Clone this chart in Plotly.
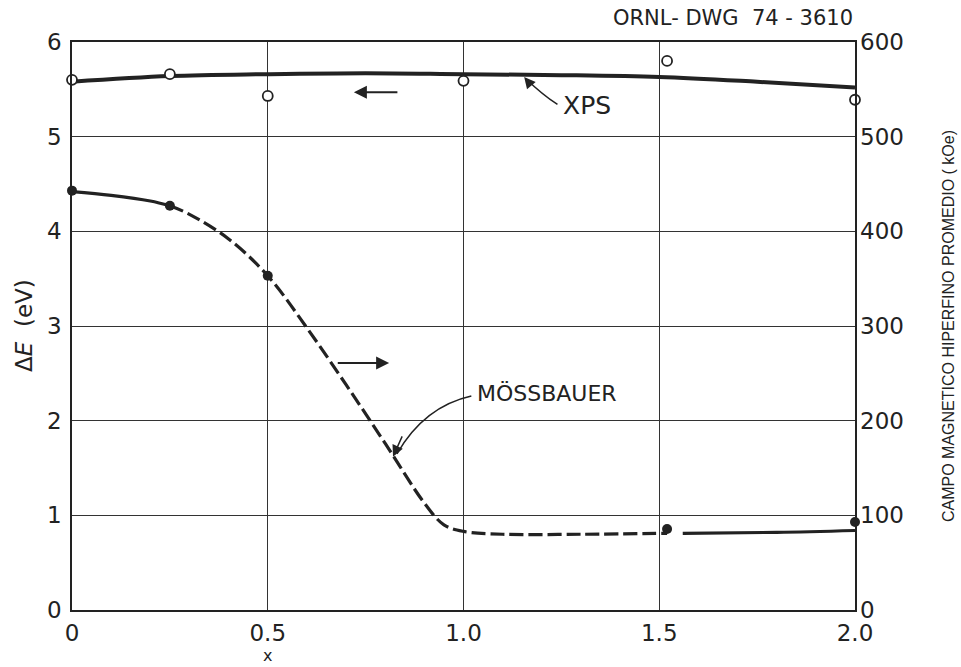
import plotly.graph_objects as go

# ---- data ----
xps_x = [0.0, 0.25, 0.5, 1.0, 1.52, 2.0]
xps_y = [5.60, 5.66, 5.43, 5.59, 5.80, 5.39]          # eV (left axis)

xps_fit_x = [0.0, 0.25, 0.5, 0.75, 1.0, 1.25, 1.5, 1.75, 2.0]
xps_fit_y = [5.58, 5.64, 5.66, 5.67, 5.66, 5.65, 5.63, 5.58, 5.52]

moss_x = [0.0, 0.25, 0.5, 1.52, 2.0]
moss_y = [443, 427, 353, 85.5, 93]                     # kOe (right axis)

moss_fit_x = [0.0, 0.1, 0.2, 0.25, 0.3, 0.4, 0.5, 0.6, 0.7, 0.8, 0.9,
              0.95, 1.0, 1.1, 1.3, 1.52, 1.56, 1.8, 2.0]
moss_fit_y = [442, 438, 432, 427, 418, 392, 353, 298, 238, 176, 113,
              90, 83, 80, 80, 81, 81, 82, 84]

x_ticks = [0, 0.5, 1.0, 1.5, 2.0]
x_tick_labels = ["0", "0.5", "1.0", "1.5", "2.0"]
y_ticks = [0, 1, 2, 3, 4, 5, 6]
y2_ticks = [0, 100, 200, 300, 400, 500, 600]

FONT = "DejaVu Sans"
INK = "#222222"

def seg(lo, hi):
    xs = [x for x in moss_fit_x if lo <= x <= hi]
    ys = [y for x, y in zip(moss_fit_x, moss_fit_y) if lo <= x <= hi]
    return xs, ys

fig = go.Figure()

fig.add_trace(go.Scatter(x=xps_fit_x, y=xps_fit_y, mode="lines",
                         line=dict(color=INK, width=4, shape="spline"),
                         showlegend=False, hoverinfo="skip"))

for lo, hi, dash in [(0.0, 0.25, "solid"), (0.25, 1.52, "14px,5px"), (1.56, 2.0, "solid")]:
    xs, ys = seg(lo, hi)
    fig.add_trace(go.Scatter(x=xs, y=ys, mode="lines", yaxis="y2",
                             line=dict(color=INK, width=3.2, shape="spline", dash=dash),
                             showlegend=False, hoverinfo="skip"))

fig.add_trace(go.Scatter(x=xps_x, y=xps_y, mode="markers",
                         marker=dict(symbol="circle", size=10, color="white",
                                     line=dict(width=1.8, color=INK)),
                         showlegend=False, cliponaxis=False))
fig.add_trace(go.Scatter(x=moss_x, y=moss_y, mode="markers", yaxis="y2",
                         marker=dict(symbol="circle", size=10, color=INK),
                         showlegend=False, cliponaxis=False))

# curved annotation pointers
fig.add_shape(type="path", xref="x", yref="y",
              path="M 1.24,5.34 Q 1.20,5.45 1.16,5.61",
              line=dict(color=INK, width=1.5))
fig.add_shape(type="path", xref="x", yref="y",
              path="M 1.02,2.26 Q 0.90,2.15 0.83,1.65",
              line=dict(color=INK, width=1.5))

ann = []
ann.append(dict(x=1.155, y=5.63, ax=1.175, ay=5.53, xref="x", yref="y",
                axref="x", ayref="y", showarrow=True, arrowhead=2,
                arrowsize=1.5, arrowwidth=1.5, arrowcolor=INK, text=""))
ann.append(dict(x=0.82, y=1.62, ax=0.845, ay=1.85, xref="x", yref="y",
                axref="x", ayref="y", showarrow=True, arrowhead=2,
                arrowsize=1.5, arrowwidth=1.5, arrowcolor=INK, text=""))
# direction arrows
ann.append(dict(x=0.72, y=5.47, ax=0.835, ay=5.47, xref="x", yref="y",
                axref="x", ayref="y", showarrow=True, arrowhead=2,
                arrowsize=1.3, arrowwidth=2, arrowcolor=INK, text=""))
ann.append(dict(x=0.81, y=2.61, ax=0.675, ay=2.61, xref="x", yref="y",
                axref="x", ayref="y", showarrow=True, arrowhead=2,
                arrowsize=1.3, arrowwidth=2, arrowcolor=INK, text=""))
ann.append(dict(x=1.25, y=5.33, xref="x", yref="y", text="XPS", showarrow=False,
                xanchor="left", yanchor="middle",
                font=dict(family=FONT, size=25, color=INK)))
ann.append(dict(x=1.03, y=2.29, xref="x", yref="y", text="MÖSSBAUER", showarrow=False,
                xanchor="left", yanchor="middle",
                font=dict(family=FONT, size=22, color=INK)))
ann.append(dict(x=1.0, y=1.0, xref="paper", yref="paper", yshift=24,
                text="ORNL- DWG  74 - 3610", showarrow=False,
                xanchor="right", yanchor="middle",
                font=dict(family=FONT, size=21, color=INK)))
ann.append(dict(x=1.0, y=0.5, xref="paper", yref="paper", xshift=93,
                text="CAMPO MAGNETICO HIPERFINO PROMEDIO ( kOe)", showarrow=False,
                textangle=-90, xanchor="center", yanchor="middle",
                font=dict(family="Liberation Sans Narrow, Liberation Sans", size=16, color=INK)))
ann.append(dict(x=0.0, y=0.5, xref="paper", yref="paper", xshift=-48,
                text="Δ<i>E</i>  (eV)", showarrow=False,
                textangle=-90, xanchor="center", yanchor="middle",
                font=dict(family=FONT, size=23, color=INK)))
ann.append(dict(x=0.5, y=0.0, xref="x", yref="paper", yshift=-45,
                text="x", showarrow=False, xanchor="center", yanchor="middle",
                font=dict(family=FONT, size=16, color=INK)))

fig.update_layout(
    width=961, height=667,
    margin=dict(l=72, r=106, t=42, b=57),
    paper_bgcolor="white", plot_bgcolor="white",
    font=dict(family=FONT, color=INK, size=23),
    annotations=ann,
    xaxis=dict(range=[0, 2], tickvals=x_ticks, ticktext=x_tick_labels,
               showgrid=True, gridcolor="#333", gridwidth=1.2,
               showline=True, linecolor=INK, linewidth=1.5, mirror=True,
               ticks="", zeroline=False, ticklabelstandoff=2,
               tickfont=dict(size=23)),
    yaxis=dict(range=[0, 6], tickvals=y_ticks,
               showgrid=True, gridcolor="#333", gridwidth=1.2,
               showline=True, linecolor=INK, linewidth=1.5, mirror=True,
               ticks="", zeroline=False, ticklabelstandoff=4,
               tickfont=dict(size=23)),
    yaxis2=dict(range=[0, 600], tickvals=y2_ticks, overlaying="y", side="right",
                showgrid=False, showline=False, ticks="", zeroline=False,
                ticklabelstandoff=4, tickfont=dict(size=23)),
)

fig.write_html("out.html")
